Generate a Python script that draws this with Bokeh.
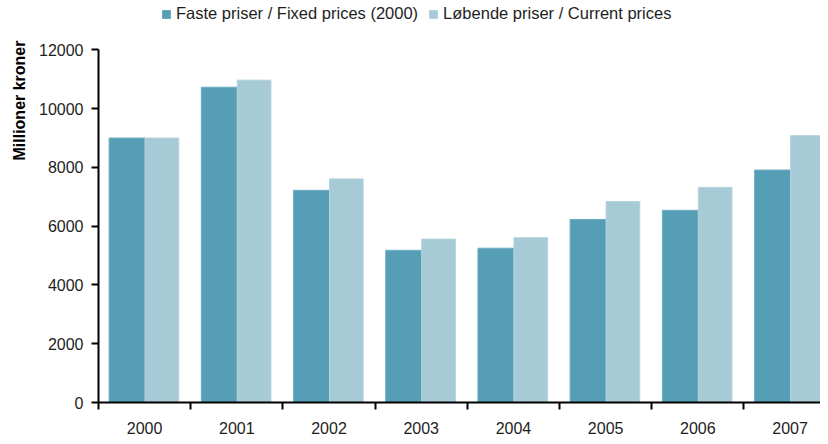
import math
from bokeh.plotting import figure
from bokeh.models import (ColumnDataSource, Range1d, FixedTicker, Legend, LegendItem, Title)
from bokeh.transform import dodge
from bokeh.embed import file_html
from bokeh.resources import INLINE

years = ["2000", "2001", "2002", "2003", "2004", "2005", "2006", "2007"]
fixed_prices = [9000, 10730, 7220, 5180, 5250, 6230, 6540, 7910]
current_prices = [9000, 10970, 7610, 5560, 5610, 6840, 7320, 9080]
y_ticks = [0, 2000, 4000, 6000, 8000, 10000, 12000]
series_names = ["Faste priser / Fixed prices (2000)", "Løbende priser / Current prices"]
colors = ["#569EB5", "#A6CAD6"]

xs = [i + 0.5 for i in range(len(years))]
src = ColumnDataSource(dict(x=xs, fixed=fixed_prices, current=current_prices))

FONT = "Liberation Sans"
TXT = "#1e1e1e"

# frame spans canvas y 0..407; 12000 sits at y=50
Y_TOP = 12000 * 407 / 357

p = figure(width=820, height=436, output_backend="svg", toolbar_location=None,
           x_range=Range1d(0, 7.83), y_range=Range1d(0, Y_TOP),
           min_border_left=98, min_border_right=0, min_border_top=0, min_border_bottom=29)
p.outline_line_color = None
p.grid.grid_line_color = None

r1 = p.vbar(x=dodge("x", -0.19), top="fixed", width=0.39, source=src,
            fill_color=colors[0], line_color="#6eacc0", line_width=1)
r2 = p.vbar(x=dodge("x", 0.1875), top="current", width=0.365, source=src,
            fill_color=colors[1], line_color="#b4d3dd", line_width=1)

# x axis: labels at centers, tick marks at boundaries (minor ticks)
xa = p.xaxis[0]
xa.ticker = FixedTicker(ticks=xs, minor_ticks=list(range(len(years))))
xa.major_label_overrides = {x: y for x, y in zip(xs, years)}
xa.major_tick_out = 0
xa.major_tick_in = 0
xa.minor_tick_out = 7
xa.minor_tick_in = 0
xa.minor_tick_line_width = 2
xa.minor_tick_line_color = "black"
xa.axis_line_width = 2
xa.axis_line_color = "black"
xa.major_label_text_font = FONT
xa.major_label_text_font_size = "16px"
xa.major_label_text_color = TXT
xa.major_label_standoff = 12

ya = p.yaxis[0]
ya.ticker = FixedTicker(ticks=y_ticks)
ya.bounds = (0, 12000)
ya.major_tick_out = 7
ya.major_tick_in = 0
ya.major_tick_line_width = 2
ya.major_tick_line_color = "black"
ya.minor_tick_line_color = None
ya.axis_line_width = 2
ya.axis_line_color = "black"
ya.major_label_text_font = FONT
ya.major_label_text_font_size = "16px"
ya.major_label_text_color = TXT
ya.major_label_standoff = 8

legend = Legend(items=[LegendItem(label=series_names[0], renderers=[r1]),
                       LegendItem(label=series_names[1], renderers=[r2])],
                orientation="horizontal", location=(63, 379),
                padding=0, margin=0, spacing=10, border_line_color=None,
                background_fill_alpha=0, glyph_width=10, glyph_height=10,
                label_text_font=FONT, label_text_font_size="16.5px",
                label_text_color=TXT, label_standoff=5, label_height=16)
p.add_layout(legend, "center")

ytitle = Title(text="Millioner kroner", align="right", offset=40, standoff=17,
               text_font=FONT, text_font_size="16px", text_font_style="bold",
               text_color="black")
p.add_layout(ytitle, "left")

open("out.html", "w").write(file_html(p, INLINE))
